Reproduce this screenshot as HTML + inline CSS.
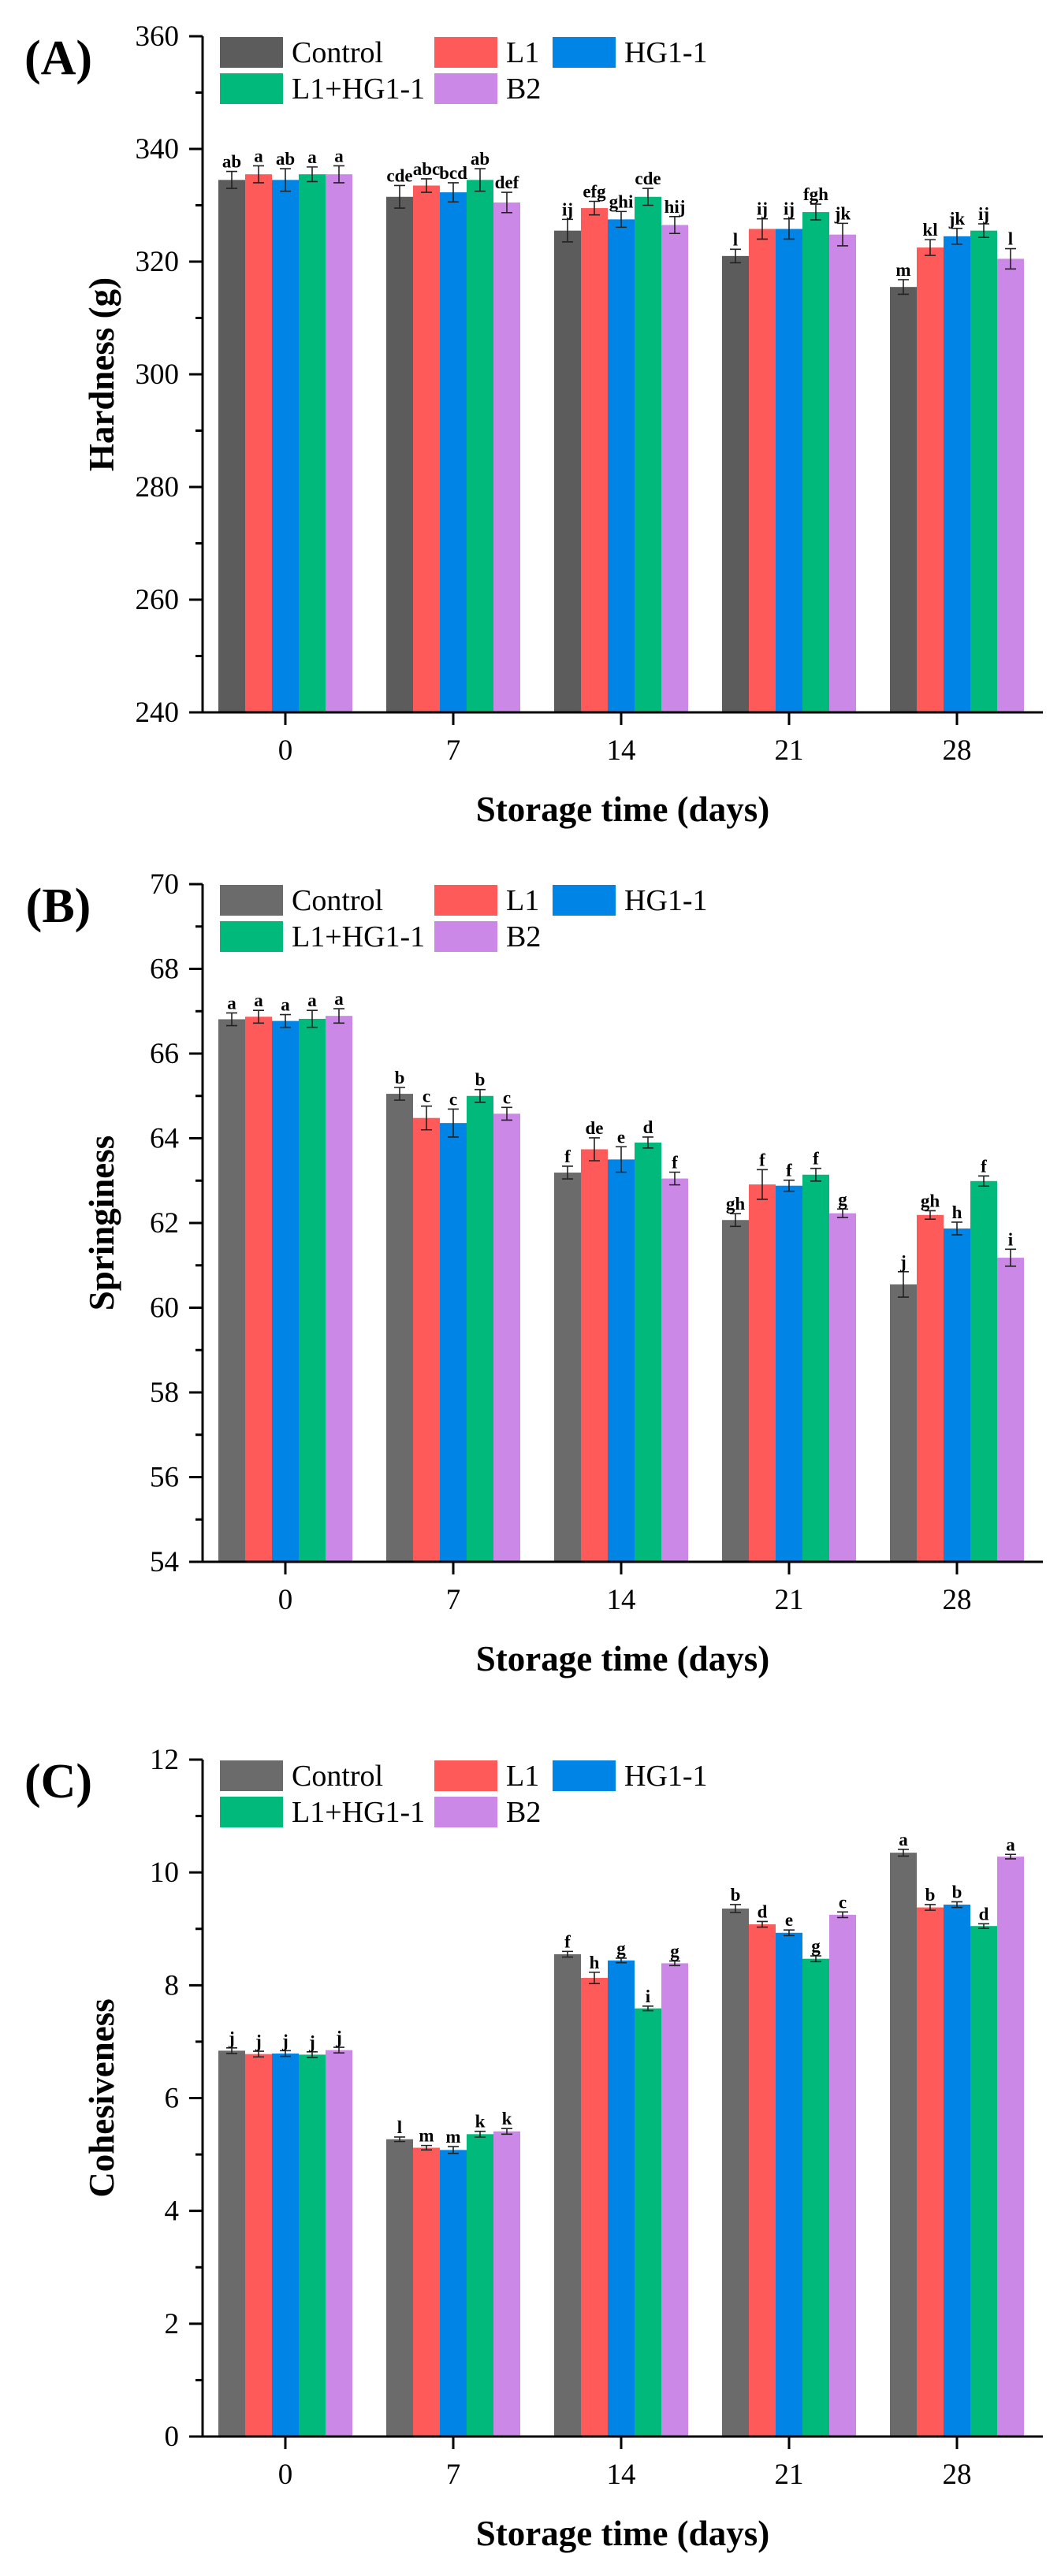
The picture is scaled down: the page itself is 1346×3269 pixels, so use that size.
<!DOCTYPE html>
<html><head><meta charset="utf-8"><style>
html,body{margin:0;padding:0;background:#fff;}
svg{display:block;font-family:"Liberation Serif","Times New Roman",serif;}
svg text{font-family:"Liberation Serif","Times New Roman",serif;}
</style></head><body>
<svg id="fig" width="1346" height="3269" viewBox="0 0 1346 3269" font-family="Liberation Serif, serif" xmlns="http://www.w3.org/2000/svg"></svg>
<script>
const days = ["0","7","14","21","28"];
const seriesNames = ["Control","L1","HG1-1","L1+HG1-1","B2"];
const colors = ["#6b6b6b","#ff5a5a","#0084e6","#00b97a","#cc88e6"];

// Panel A: Hardness
const hardControl = [334.5,331.5,325.5,321.0,315.5];
const hardL1 = [335.5,333.5,329.5,325.8,322.5];
const hardHG = [334.5,332.3,327.5,325.8,324.5];
const hardLHG = [335.5,334.5,331.5,328.8,325.5];
const hardB2 = [335.5,330.5,326.5,324.8,320.5];
const hardErr = [[1.5,2,2,1.2,1.3],[1.5,1.2,1.2,1.8,1.4],[2,1.7,1.4,1.8,1.4],[1.3,2,1.5,1.4,1.2],[1.5,1.8,1.5,2,1.8]];
const hardLetters = [["ab","cde","ij","l","m"],["a","abc","efg","ij","kl"],["ab","bcd","ghi","ij","jk"],["a","ab","cde","fgh","ij"],["a","def","hij","jk","l"]];
const hardTicks = [240,260,280,300,320,340,360];

// Panel B: Springiness
const sprControl = [66.81,65.05,63.19,62.07,60.55];
const sprL1 = [66.87,64.48,63.74,62.91,62.19];
const sprHG = [66.77,64.36,63.5,62.88,61.87];
const sprLHG = [66.82,65.0,63.9,63.14,62.99];
const sprB2 = [66.89,64.58,63.05,62.23,61.18];
const sprErr = [[0.15,0.15,0.15,0.15,0.3],[0.15,0.28,0.27,0.35,0.1],[0.15,0.33,0.3,0.13,0.15],[0.2,0.15,0.13,0.15,0.12],[0.17,0.15,0.15,0.1,0.2]];
const sprLetters = [["a","b","f","gh","j"],["a","c","de","f","gh"],["a","c","e","f","h"],["a","b","d","f","f"],["a","c","f","g","i"]];
const sprTicks = [54,56,58,60,62,64,66,68,70];

// Panel C: Cohesiveness
const cohControl = [6.84,5.27,8.55,9.36,10.35];
const cohL1 = [6.78,5.12,8.13,9.08,9.38];
const cohHG = [6.79,5.08,8.44,8.93,9.43];
const cohLHG = [6.77,5.36,7.59,8.47,9.05];
const cohB2 = [6.85,5.41,8.39,9.25,10.28];
const cohErr = [[0.05,0.04,0.05,0.07,0.06],[0.05,0.04,0.1,0.05,0.05],[0.05,0.06,0.04,0.05,0.05],[0.05,0.05,0.04,0.05,0.04],[0.05,0.05,0.04,0.05,0.04]];
const cohLetters = [["j","l","f","b","a"],["j","m","h","d","b"],["j","m","g","e","b"],["j","k","i","g","d"],["j","k","g","c","a"]];
const cohTicks = [0,2,4,6,8,10,12];

const NS = "http://www.w3.org/2000/svg";
const svg = document.getElementById("fig");
function mk(tag, attrs, parent){
  const e = document.createElementNS(NS, tag);
  for (const k in attrs) e.setAttribute(k, attrs[k]);
  if (tag === "text") e.setAttribute("font-family", "Liberation Serif, serif");
  (parent||svg).appendChild(e);
  return e;
}

const X0 = 257, X1 = 1323, groupStart = 362, groupStep = 213, barW = 34;
function xScale(i){ return groupStart + i*groupStep; }

function panel(cfg){
  const g = mk("g", {});
  
  
  const top = cfg.top, bot = cfg.bottom;
  const ticks = cfg.ticks;
  const ymin = ticks[0], ymax = ticks[ticks.length-1];
  const yScale = v => bot - (v - ymin)/(ymax - ymin)*(bot - top);

  const pl = mk("text", {x:74, y:top+48, "text-anchor":"middle", "font-size":62, "font-weight":"bold"}, g);
  pl.textContent = cfg.label;
  
  

  const series = cfg.series;
  for (let s=0; s<5; s++){
    for (let i=0; i<days.length; i++){
      const v = series[s][i];
      const cx = xScale(i) + (s-2)*barW;
      const y = yScale(v);
      const r = mk("rect", {x:cx-barW/2, y:y, width:barW, height:bot-y, fill:(s===0?cfg.ctrlColor:colors[s])}, g);
      
      
      const e = cfg.err[s][i];
      const yt = yScale(v+e), yb = yScale(v-e);
      const eb = mk("path", {d:`M${cx},${yt}V${yb}M${cx-7},${yt}H${cx+7}M${cx-7},${yb}H${cx+7}`, stroke:"#222", "stroke-width":1.6, fill:"none"}, g);
      
      
      const t = mk("text", {x:cx, y:yt-5, "text-anchor":"middle", "font-size":23, "font-weight":"bold"}, g);
      t.textContent = cfg.letters[s][i];
      
      
    }
  }

  const ax = mk("path", {d:`M${X0},${top}V${bot}H${X1}`, stroke:"#000", "stroke-width":3, fill:"none"}, g);
  
  
  for (let k=0; k<ticks.length; k++){
    const y = yScale(ticks[k]);
    mk("line", {x1:X0-17, x2:X0, y1:y, y2:y, stroke:"#000", "stroke-width":3}, g);
    const t = mk("text", {x:227, y:y+12, "text-anchor":"end", "font-size":37}, g);
    t.textContent = ticks[k];
    
    
    if (k < ticks.length-1){
      const ym = yScale((ticks[k]+ticks[k+1])/2);
      mk("line", {x1:X0-9, x2:X0, y1:ym, y2:ym, stroke:"#000", "stroke-width":3}, g);
    }
  }
  for (let i=0; i<days.length; i++){
    const x = xScale(i);
    mk("line", {x1:x, x2:x, y1:bot, y2:bot+16, stroke:"#000", "stroke-width":3}, g);
    const t = mk("text", {x:x, y:bot+60, "text-anchor":"middle", "font-size":37}, g);
    t.textContent = days[i];
    
    
  }
  const xt = mk("text", {x:790, y:bot+138, "text-anchor":"middle", "font-size":45, "font-weight":"bold"}, g);
  xt.textContent = "Storage time (days)";
  
  
  const ymid = (top+bot)/2;
  const yt = mk("text", {x:0, y:0, "text-anchor":"middle", "font-size":45, "font-weight":"bold", transform:`translate(144,${ymid}) rotate(-90)`}, g);
  yt.textContent = cfg.yTitle;
  
  

  const legPos = [[279,0],[551,0],[701,0],[279,1],[551,1]];
  for (let s=0; s<5; s++){
    const lx = legPos[s][0], ly = top + 1 + legPos[s][1]*46;
    const lg = mk("g", {}, g);
    
    
    mk("rect", {x:lx, y:ly, width:80, height:39, fill:(s===0?cfg.ctrlColor:colors[s])}, lg);
    const t = mk("text", {x:lx+91, y:ly+32, "font-size":38}, lg);
    t.textContent = seriesNames[s];
  }
}

panel({name:"hardness-panel", label:"(A)", top:46, bottom:904, ticks:hardTicks, yTitle:"Hardness (g)",
  series:[hardControl,hardL1,hardHG,hardLHG,hardB2], err:hardErr, letters:hardLetters, ctrlColor:"#5c5c5c"});
panel({name:"springiness-panel", label:"(B)", top:1122, bottom:1982, ticks:sprTicks, yTitle:"Springiness",
  series:[sprControl,sprL1,sprHG,sprLHG,sprB2], err:sprErr, letters:sprLetters, ctrlColor:"#6b6b6b"});
panel({name:"cohesiveness-panel", label:"(C)", top:2233, bottom:3092, ticks:cohTicks, yTitle:"Cohesiveness",
  series:[cohControl,cohL1,cohHG,cohLHG,cohB2], err:cohErr, letters:cohLetters, ctrlColor:"#6b6b6b"});
</script>
</body></html>
